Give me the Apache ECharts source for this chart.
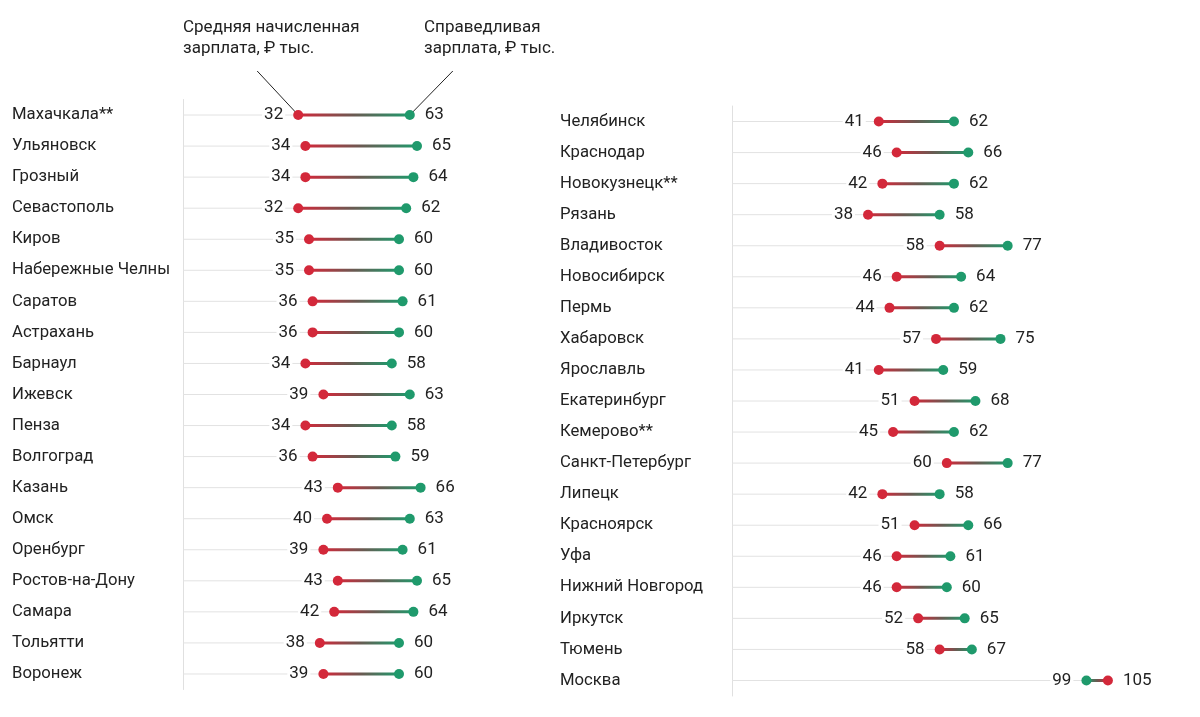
<!DOCTYPE html>
<html><head><meta charset="utf-8">
<script src="https://cdn.jsdelivr.net/npm/echarts@6/dist/echarts.min.js"></script>
<style>html,body{margin:0;padding:0;background:#fff}#c{width:1200px;height:717px}</style>
</head><body><div id="c"></div>
<script>
const leftCities = ['Махачкала**','Ульяновск','Грозный','Севастополь','Киров','Набережные Челны','Саратов','Астрахань','Барнаул','Ижевск','Пенза','Волгоград','Казань','Омск','Оренбург','Ростов-на-Дону','Самара','Тольятти','Воронеж'];
const leftAvg  = [32,34,34,32,35,35,36,36,34,39,34,36,43,40,39,43,42,38,39];
const leftFair = [63,65,64,62,60,60,61,60,58,63,58,59,66,63,61,65,64,60,60];
const rightCities = ['Челябинск','Краснодар','Новокузнецк**','Рязань','Владивосток','Новосибирск','Пермь','Хабаровск','Ярославль','Екатеринбург','Кемерово**','Санкт-Петербург','Липецк','Красноярск','Уфа','Нижний Новгород','Иркутск','Тюмень','Москва'];
const rightAvg  = [41,46,42,38,58,46,44,57,41,51,45,60,42,51,46,46,52,58,105];
const rightFair = [62,66,62,58,77,64,62,75,59,68,62,77,58,66,61,60,65,67,99];
const annotAvg = 'Средняя начисленная\nзарплата, ₽ тыс.';
const annotFair = 'Справедливая\nзарплата, ₽ тыс.';

const RED = '#d3283a', GREEN = '#1f9a6c', TXT = '#222', FONT = 'Roboto';

function renderItem(params, api) {
  const cat = api.value(0), a = api.value(1), f = api.value(2);
  const pA = api.coord([a, cat]), pF = api.coord([f, cat]), p0 = api.coord([0, cat]);
  const lo = Math.min(pA[0], pF[0]), hi = Math.max(pA[0], pF[0]);
  const loVal = Math.min(a, f), hiVal = Math.max(a, f);
  const y = pA[1];
  return {type: 'group', children: [
    {type:'line', shape:{x1:p0[0], y1:y, x2:lo, y2:y}, style:{stroke:'#e2e2e2', lineWidth:1}},
    {type:'line', shape:{x1:pA[0], y1:y, x2:pF[0], y2:y}, style:{lineWidth:3,
      stroke: new echarts.graphic.LinearGradient(pA[0], 0, pF[0], 0, [{offset:0,color:RED},{offset:0.5,color:'#6a5a52'},{offset:1,color:GREEN}], true)}},
    {type:'circle', shape:{cx:pA[0], cy:y, r:5}, style:{fill:RED}},
    {type:'circle', shape:{cx:pF[0], cy:y, r:5}, style:{fill:GREEN}},
    {type:'text', x: lo - 13, y: y, style:{text:String(loVal), align:'right', verticalAlign:'middle', fill:TXT, font:'17px '+FONT, backgroundColor:'#fff', padding:[0,2]}},
    {type:'text', x: hi + 15, y: y, style:{text:String(hiVal), align:'left', verticalAlign:'middle', fill:TXT, font:'17px '+FONT}}
  ]};
}

function mk(cities, avg, fair) { return cities.map((c,i)=>[i, avg[i], fair[i]]); }

const grids = [
  {left:183, top:99.5, width:360, height:590},
  {left:732, top:106, width:465.4, height:590}
];
const xAxes = [0,1].map(i=>({gridIndex:i, type:'value', min:0, max: i===0?100:130, show:false}));
const yAxes = [[leftCities,171],[rightCities,172]].map((d,i)=>({gridIndex:i, type:'category', data:d[0], inverse:true,
  axisLine:{show:true, lineStyle:{color:'#e0e0e0', width:1}}, axisTick:{show:false}, splitLine:{show:false},
  axisLabel:{align:'left', margin:d[1], color:TXT, fontSize:16.7, fontFamily:FONT}}));

const chart = echarts.init(document.getElementById('c'), null, {renderer:'canvas'});
chart.setOption({
  animation:false,
  grid: grids, xAxis: xAxes, yAxis: yAxes,
  series: [
    {type:'custom', xAxisIndex:0, yAxisIndex:0, renderItem, data: mk(leftCities,leftAvg,leftFair), encode:{x:[1,2], y:0}},
    {type:'custom', xAxisIndex:1, yAxisIndex:1, renderItem, data: mk(rightCities,rightAvg,rightFair), encode:{x:[1,2], y:0}}
  ]
});
const pa = chart.convertToPixel({gridIndex:0}, [leftAvg[0], 0]);
const pf = chart.convertToPixel({gridIndex:0}, [leftFair[0], 0]);
chart.setOption({graphic:[
  {type:'text', left:183, top:17, style:{text:annotAvg, fill:TXT, font:'17px '+FONT, lineHeight:21}},
  {type:'text', left:424, top:17, style:{text:annotFair, fill:TXT, font:'17px '+FONT, lineHeight:21}},
  {type:'line', shape:{x1:pa[0]-41, y1:71, x2:pa[0], y2:pa[1]}, style:{stroke:'#222', lineWidth:1}},
  {type:'line', shape:{x1:pf[0]+43, y1:71, x2:pf[0], y2:pf[1]}, style:{stroke:'#222', lineWidth:1}}
]});
</script></body></html>
